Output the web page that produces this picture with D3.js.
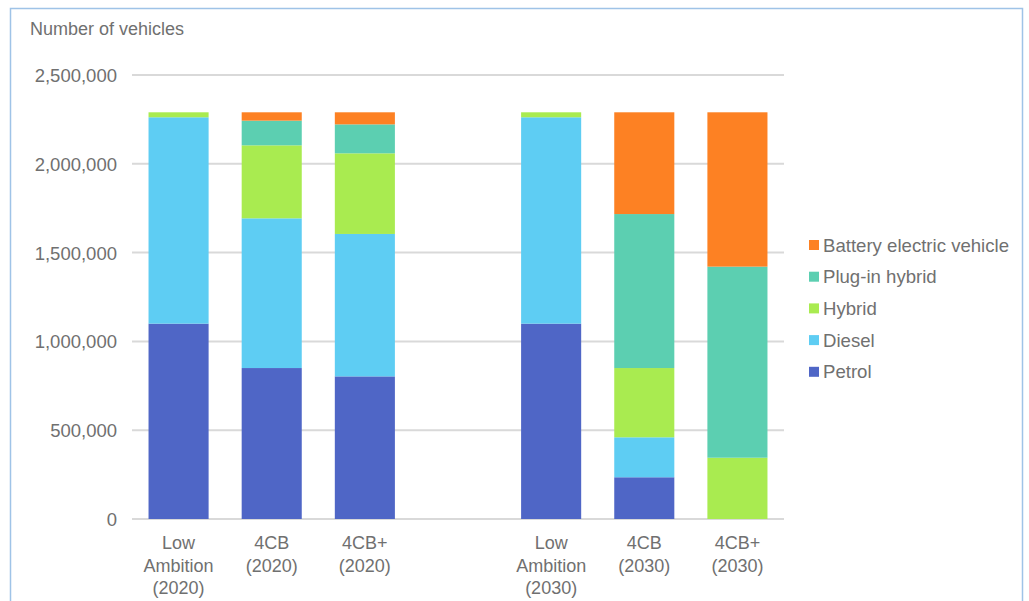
<!DOCTYPE html>
<html>
<head>
<meta charset="utf-8">
<script src="https://cdn.jsdelivr.net/npm/d3@7"></script>
<style>
  html, body { margin: 0; padding: 0; background: #fff; }
  svg { display: block; }
  text { font-family: "Liberation Sans", Arial, sans-serif; }
</style>
</head>
<body>
<svg id="chart" width="1029" height="601"></svg>
<script>
// ---- data ----
const categories = ["Low Ambition (2020)", "4CB (2020)", "4CB+ (2020)", "", "Low Ambition (2030)", "4CB (2030)", "4CB+ (2030)"];
const seriesNames = ["Petrol", "Diesel", "Hybrid", "Plug-in hybrid", "Battery electric vehicle"];
const petrol = [1100000, 850000, 803000, 0, 1100000, 235000, 0];
const diesel = [1162000, 843000, 802000, 0, 1162000, 225000, 0];
const hybrid = [28000, 411000, 454000, 0, 28000, 390000, 345000];
const plugInHybrid = [0, 139000, 163000, 0, 0, 867000, 1076000];
const batteryElectric = [0, 47000, 68000, 0, 0, 573000, 869000];
const yTicks = [0, 500000, 1000000, 1500000, 2000000, 2500000];
const yTitle = "Number of vehicles";

const colors = ["#4f66c6", "#5ecdf3", "#a9eb50", "#5ccfb1", "#fd8123"];
const seriesValues = [petrol, diesel, hybrid, plugInHybrid, batteryElectric];

// ---- build table ----
const table = categories.map((c, i) => {
  const row = { category: c, key: "k" + i };
  seriesNames.forEach((s, j) => row[s] = seriesValues[j][i]);
  return row;
});

const svg = d3.select("#chart");
const textColor = "#707070";

// frame
svg.append("rect")
  .attr("x", 10.5).attr("y", 8.5)
  .attr("width", 1012).attr("height", 620)
  .attr("fill", "none").attr("stroke", "#9fc3e7").attr("stroke-width", 1.5);

const x = d3.scaleBand()
  .domain(table.map(d => d.key))
  .range([132, 784])
  .paddingInner(0.355)
  .paddingOuter(0.1775);

const y = d3.scaleLinear()
  .domain([0, 2500000])
  .range([519, 75]);

// gridlines
svg.append("g").selectAll("line")
  .data(yTicks)
  .join("line")
  .attr("x1", 132).attr("x2", 784)
  .attr("y1", d => y(d)).attr("y2", d => y(d))
  .attr("stroke", "#d9d9d9").attr("stroke-width", 2);

// y axis labels
const yAxis = d3.axisLeft(y).tickValues(yTicks).tickFormat(d3.format(",")).tickSize(0).tickPadding(0);
const yg = svg.append("g").attr("transform", "translate(117,0)").call(yAxis);
yg.select(".domain").remove();
yg.selectAll("text")
  .attr("fill", textColor)
  .style("font-size", "18.5px")
  .attr("dy", "0.35em");

// title
svg.append("text")
  .attr("x", 30).attr("y", 35)
  .attr("fill", textColor)
  .style("font-size", "18px")
  .text(yTitle);

// stacked bars
const stack = d3.stack().keys(seriesNames);
const stacked = stack(table);

svg.append("g").selectAll("g")
  .data(stacked)
  .join("g")
  .attr("fill", (d, i) => colors[i])
  .selectAll("rect")
  .data(d => d.filter(p => p[1] - p[0] > 0))
  .join("rect")
  .attr("x", d => x(d.data.key))
  .attr("width", x.bandwidth())
  .attr("y", d => y(d[1]))
  .attr("height", d => y(d[0]) - y(d[1]));

// x labels
const xl = svg.append("g").selectAll("text")
  .data(table.filter(d => d.category !== ""))
  .join("text")
  .attr("x", d => x(d.key) + x.bandwidth() / 2)
  .attr("y", 549)
  .attr("text-anchor", "middle")
  .attr("fill", textColor)
  .style("font-size", "18px");
xl.each(function(d) {
  const t = d3.select(this);
  d.category.split(" ").forEach((w, i) => {
    t.append("tspan")
      .attr("x", x(d.key) + x.bandwidth() / 2)
      .attr("dy", i === 0 ? 0 : 22.5)
      .text(w);
  });
});

// legend
const legendItems = seriesNames.map((s, i) => ({ name: s, color: colors[i] })).reverse();
const lg = svg.append("g").selectAll("g")
  .data(legendItems)
  .join("g")
  .attr("transform", (d, i) => `translate(809,${245 + i * 31.7})`);
lg.append("rect")
  .attr("x", 0).attr("y", -5)
  .attr("width", 10).attr("height", 10)
  .attr("fill", d => d.color);
lg.append("text")
  .attr("x", 14).attr("y", 0)
  .attr("dy", "0.35em")
  .attr("fill", textColor)
  .style("font-size", "18.6px")
  .text(d => d.name);
</script>
</body>
</html>
